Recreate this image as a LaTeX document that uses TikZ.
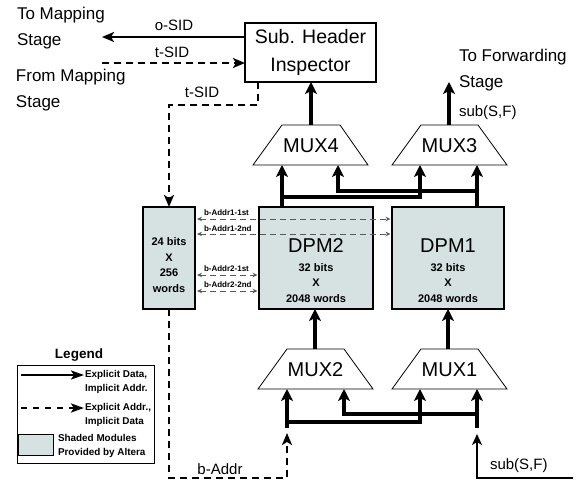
\documentclass[tikz,border=0pt]{standalone}
\usepackage{fontspec}
\setmainfont{Liberation Sans}
\usetikzlibrary{arrows.meta}
\definecolor{altera}{RGB}{214,226,226}
\begin{document}
\begin{tikzpicture}[x=1pt,y=-1pt,
  every node/.style={inner sep=0pt,outer sep=0pt},
  bus/.style={line width=3.3pt},
  busarr/.style={bus,-{Stealth[length=12pt,width=12pt,inset=3pt]}},
  sig/.style={line width=2.4pt,-{Stealth[length=12pt,width=10pt,inset=3pt]}},
  dsig/.style={sig,line width=2.6pt,dash pattern=on 7pt off 5pt},
  thinsig/.style={line width=1.8pt,-{Stealth[length=11pt,width=10pt,inset=3pt]}},
  addr/.style={line width=0.9pt,draw=black!65,dash pattern=on 6pt off 4pt,
    {Stealth[length=5pt,width=4.5pt]}-{Stealth[length=5pt,width=4.5pt]}},
  shaded/.style={draw,line width=1.8pt,fill=altera},
  muxshape/.style={draw,line width=0.8pt,fill=white},
  big/.style={font=\fontsize{17}{26}\selectfont},
  huge/.style={font=\fontsize{19.5}{28}\selectfont},
  muxfont/.style={font=\fontsize{20}{24}\selectfont},
  mid/.style={font=\fontsize{15}{18}\selectfont},
  boldsm/.style={font=\fontsize{11}{15.5}\selectfont\bfseries,align=center},
  tiny/.style={font=\fontsize{8}{10}\selectfont\bfseries,anchor=west},
  legf/.style={font=\fontsize{9.9}{14}\selectfont\bfseries,align=left,anchor=west}
]
\useasboundingbox (0,0) rectangle (583,481);

% ---- header inspector
\node[draw,line width=2pt,minimum width=131pt,minimum height=59pt,huge,align=center] (hdr) at (310.5,52.5) {Sub. Header\\Inspector};

% ---- memories
\node[shaded,minimum width=52pt,minimum height=102pt] (sm) at (169,258) {};
\node[boldsm] (smtxt) at (169,265) {24 bits\\X\\256\\words};
\node[shaded,minimum width=114pt,minimum height=102pt] (dpm2) at (316,258) {};
\node[muxfont] (dpm2t) at (316,246) {DPM2};
\node[boldsm] (dpm2s) at (316,283) {32 bits\\X\\2048 words};
\node[shaded,minimum width=112pt,minimum height=102pt] (dpm1) at (448,258) {};
\node[muxfont] (dpm1t) at (448,246) {DPM1};
\node[boldsm] (dpm1s) at (448,283) {32 bits\\X\\2048 words};

% ---- muxes
\draw[muxshape] (253,165) -- (282,125) -- (340,125) -- (368,165) -- cycle;
\node[muxfont] (mux4) at (311,146) {MUX4};
\draw[muxshape] (392,165) -- (421,125) -- (478,125) -- (507,165) -- cycle;
\node[muxfont] (mux3) at (449.5,146) {MUX3};
\draw[muxshape] (258,389) -- (287,349) -- (344,349) -- (373,389) -- cycle;
\node[muxfont] (mux2) at (315.5,370) {MUX2};
\draw[muxshape] (392,389) -- (421,349) -- (478,349) -- (507,389) -- cycle;
\node[muxfont] (mux1) at (449.5,370) {MUX1};

% ports
\coordinate (m4o) at (311,125);
\coordinate (m3o) at (449,125);
\coordinate (m4a) at (282,165);
\coordinate (m4b) at (338,165);
\coordinate (m3a) at (420,165);
\coordinate (m3b) at (477,165);
\coordinate (m2o) at (315,349);
\coordinate (m1o) at (448,349);
\coordinate (m2a) at (287,389);
\coordinate (m2b) at (344,389);
\coordinate (m1a) at (420,389);
\coordinate (m1b) at (477,389);
\coordinate (fwd) at (449,82);

% ---- upper bus
\coordinate (j1) at (282,197);
\coordinate (j2) at (477,191);
\draw[busarr] (m4a |- dpm2.north) -- (m4a);
\draw[busarr] (j1) -| (m3a);
\draw[busarr] (m3b |- dpm1.north) -- (m3b);
\draw[busarr] (j2) -| (m4b);
\draw[busarr] (m4o) -- (m4o |- hdr.south);
\draw[busarr] (m3o) -- (fwd);

% ---- lower bus
\coordinate (j3) at (287,422);
\coordinate (j4) at (477,414);
\coordinate (s2) at (287,428);
\coordinate (s1) at (477,428);
\draw[busarr] (s2) -- (m2a);
\draw[busarr] (j3) -| (m1a);
\draw[busarr] (s1) -- (m1b);
\draw[busarr] (j4) -| (m2b);
\draw[busarr] (m2o) -- (m2o |- dpm2.south);
\draw[busarr] (m1o) -- (m1o |- dpm1.south);

% ---- sub(S,F) input
\coordinate (sfin) at (573,478);
\coordinate (sft) at (477,434);
\draw[thinsig] (sfin) -| (sft);
\node[mid,anchor=west] (sflab) at (490,466) {sub(S,F)};

% ---- b-Addr
\coordinate (bad) at (287,433);
\coordinate (bcorner) at (169,478);
\draw[dsig] (sm.south) -- (bcorner) -| (bad);
\node[mid] (badlab) at (220,469) {b-Addr};

% ---- t-SID to small memory
\coordinate (ts1) at (258,105);
\draw[dsig] (hdr.south -| ts1) -- (ts1) -| (sm.north);
\node[mid] (tsid2) at (202,92) {t-SID};

% ---- mapping stage signals
\coordinate (osidend) at (102,37);
\coordinate (tsidstart) at (102,63);
\draw[sig] (hdr.west |- osidend) -- (osidend);
\draw[dsig] (tsidstart) -- (hdr.west |- tsidstart);
\node[mid] (osid) at (174,25) {o-SID};
\node[mid] (tsid) at (172,52) {t-SID};
\node[big,align=left,anchor=west] (tomap) at (17,28) {To Mapping\\Stage};
\node[big,align=left,anchor=west] (frommap) at (16,90) {From Mapping\\Stage};
\node[big,align=left,anchor=west] (tofwd) at (459,70) {To Forwarding\\Stage};
\node[mid,anchor=west] (sfout) at (459,113) {sub(S,F)};

% ---- address crossings
\coordinate (y1) at (0,219);
\coordinate (y2) at (0,234);
\coordinate (y3) at (0,275);
\coordinate (y4) at (0,291);
\draw[addr] ([xshift=2pt]sm.east |- y1) -- ([xshift=-1.5pt]dpm1.west |- y1);
\draw[addr] ([xshift=2pt]sm.east |- y2) -- ([xshift=-1.5pt]dpm1.west |- y2);
\draw[addr] ([xshift=2pt]sm.east |- y3) -- ([xshift=-1.5pt]dpm2.west |- y3);
\draw[addr] ([xshift=2pt]sm.east |- y4) -- ([xshift=-1.5pt]dpm2.west |- y4);
\node[tiny] (la1) at (204,213) {b-Addr1-1st};
\node[tiny] (la2) at (204,229) {b-Addr1-2nd};
\node[tiny] (la3) at (204,269) {b-Addr2-1st};
\node[tiny] (la4) at (204,285) {b-Addr2-2nd};

% ---- legend
\node[font=\fontsize{13.5}{16}\selectfont\bfseries] (legt) at (79,355) {Legend};
\node[draw,line width=1pt,minimum width=137pt,minimum height=98pt] (leg) at (85.5,414) {};
\coordinate (l1a) at (21,375);
\coordinate (l1b) at (84,375);
\coordinate (l2a) at (21,408);
\coordinate (l2b) at (84,408);
\draw[sig,-{Stealth[length=13pt,width=9pt,inset=3pt]}] (l1a) -- (l1b);
\draw[dsig,dash pattern=on 6pt off 6pt,-{Stealth[length=13pt,width=9pt,inset=3pt]}] (l2a) -- (l2b);
\node[legf] (lt1) at (85,381.5) {Explicit Data,\\Implicit Addr.};
\node[legf] (lt2) at (85,415) {Explicit Addr.,\\Implicit Data};
\node[draw,line width=1pt,fill=altera,minimum width=35pt,minimum height=21pt] (lsq) at (35.5,444.5) {};
\node[legf] (lt3) at (58,445.5) {Shaded Modules\\Provided by Altera};
\end{tikzpicture}
\end{document}
